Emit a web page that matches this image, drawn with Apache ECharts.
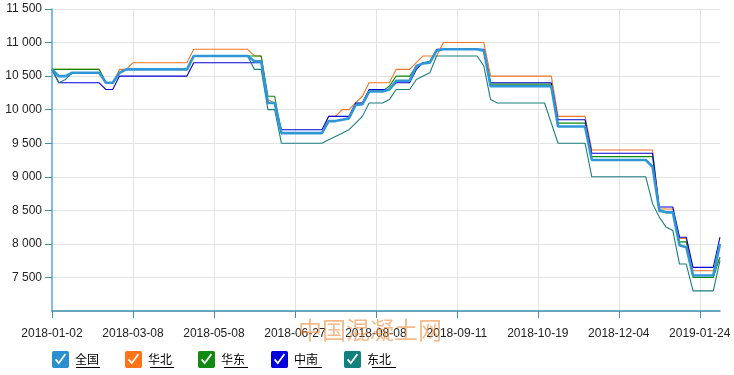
<!DOCTYPE html>
<html><head><meta charset="utf-8">
<script src="https://cdn.jsdelivr.net/npm/echarts@6/dist/echarts.min.js"></script>
<style>html,body{margin:0;padding:0;background:#fff}#c{width:734px;height:375px}</style>
</head><body><div id="c"></div>
<script>
const dates = [
'2018-01-02','2018-01-08','2018-01-12','2018-01-18','2018-01-24','2018-01-29','2018-02-02','2018-02-07','2018-02-12','2018-02-23','2018-02-28','2018-03-03','2018-03-08',
'2018-03-13','2018-03-17','2018-03-22','2018-03-27','2018-04-02','2018-04-08','2018-04-13','2018-04-18','2018-04-23','2018-04-27','2018-05-03','2018-05-08',
'2018-05-12','2018-05-16','2018-05-20','2018-05-24','2018-05-28','2018-06-01','2018-06-05','2018-06-09','2018-06-14','2018-06-19','2018-06-23','2018-06-27',
'2018-06-30','2018-07-04','2018-07-07','2018-07-11','2018-07-14','2018-07-18','2018-07-21','2018-07-25','2018-07-28','2018-08-01','2018-08-04','2018-08-08',
'2018-08-11','2018-08-14','2018-08-17','2018-08-20','2018-08-23','2018-08-26','2018-08-29','2018-09-01','2018-09-04','2018-09-06','2018-09-09','2018-09-11',
'2018-09-14','2018-09-17','2018-09-20','2018-09-23','2018-09-26','2018-09-29','2018-10-03','2018-10-06','2018-10-09','2018-10-12','2018-10-16','2018-10-19',
'2018-10-23','2018-10-27','2018-10-31','2018-11-04','2018-11-08','2018-11-12','2018-11-16','2018-11-19','2018-11-22','2018-11-25','2018-11-29','2018-12-04',
'2018-12-08','2018-12-12','2018-12-16','2018-12-20','2018-12-24','2018-12-28','2019-01-01','2019-01-05','2019-01-09','2019-01-13','2019-01-18','2019-01-24',
'2019-01-28','2019-02-01','2019-02-05'
];

const seriesNames = ['全国','华北','华东','中南','东北'];

const quanguo = [
10600,10500,10500,10550,10550,10550,10550,10550,10400,10400,10550,10600,
10600,10600,10600,10600,10600,10600,10600,10600,10600,
10800,10800,10800,10800,10800,10800,10800,10800,10800,
10720,10720,10100,10100,
9650,9650,9650,9650,9650,9650,9650,
9830,9830,9850,9870,10070,10080,10270,10270,10270,10300,10430,10430,10430,10650,10690,10700,10880,
10900,10900,10900,10900,10900,10900,
10880,10350,
10350,10350,10350,10350,10350,10350,10350,10350,10350,
9750,9750,9750,9750,9750,
9250,9250,9250,9250,9250,9250,9250,9250,9250,
9150,8500,8470,8470,7980,7950,7530,7530,7530,7530,8000
];

const huabei = [
10600,10600,10600,10600,10600,10600,10600,10600,10400,10400,10600,10600,
10700,10700,10700,10700,10700,10700,10700,10700,10700,
10900,10900,10900,10900,10900,10900,10900,10900,10900,
10800,10800,10150,10100,
9650,9650,9650,9650,9650,9650,9650,
9900,9900,10000,10000,10100,10200,10400,10400,10400,10400,10600,10600,10600,10700,10800,10800,10800,
11000,11000,11000,11000,11000,11000,
11000,10500,
10500,10500,10500,10500,10500,10500,10500,10500,10500,
9900,9900,9900,9900,9900,
9400,9400,9400,9400,9400,9400,9400,9400,9400,9400,
8520,8520,8520,8080,8080,7600,7600,7600,7600,7800
];

const huadong = [
10600,10600,10600,10600,10600,10600,10600,10600,10400,10400,10550,10600,
10600,10600,10600,10600,10600,10600,10600,10600,10600,
10800,10800,10800,10800,10800,10800,10800,10800,10800,10800,10800,
10200,10200,
9650,9650,9650,9650,9650,9650,9650,
9830,9830,9850,9880,10080,10100,10280,10280,10280,10350,10500,10500,10500,10650,10700,10720,10880,
10900,10900,10900,10900,10900,10900,
10880,10380,
10380,10380,10380,10380,10380,10380,10380,10380,10380,
9800,9800,9800,9800,9800,
9300,9300,9300,9300,9300,9300,9300,9300,9300,9300,
8480,8480,8480,8030,8030,7500,7500,7500,7500,7800
];

const zhongnan = [
10600,10400,10400,10400,10400,10400,10400,10400,10300,10300,10500,
10500,10500,10500,10500,10500,10500,10500,10500,10500,10500,
10700,10700,10700,10700,10700,10700,10700,10700,10700,10700,10700,
10100,10100,
9700,9700,9700,9700,9700,9700,9700,
9900,9900,9900,9900,10100,10100,10300,10300,10300,10300,10400,10400,10400,10600,10700,10700,10900,
10900,10900,10900,10900,10900,10900,
10900,10400,
10400,10400,10400,10400,10400,10400,10400,10400,10400,
9850,9850,9850,9850,9850,
9350,9350,9350,9350,9350,9350,9350,9350,9350,9350,
8550,8550,8550,8100,8100,7650,7650,7650,7650,8100
];

const dongbei = [
10600,10400,10450,10550,10550,10550,10550,10550,10400,10400,10550,
10600,10600,10600,10600,10600,10600,10600,10600,10600,10600,
10800,10800,10800,10800,10800,10800,10800,10800,10800,
10600,10600,10000,10000,
9500,9500,9500,9500,9500,9500,9500,
9550,9600,9650,9700,9800,9900,10100,10100,10100,10150,10300,10300,10300,10450,10500,10550,10800,
10800,10800,10800,10800,10800,10800,
10650,10150,
10100,10100,10100,10100,10100,10100,10100,10100,
9800,
9500,9500,9500,9500,9500,
9000,9000,9000,9000,9000,9000,9000,9000,9000,
8600,8400,8250,8200,7700,7700,7300,7300,7300,7300,7750
];

const colors = ['#2f97d8','#f07424','#0a8a0a','#0000d0','#1a7f7f'];
const legendColors = ['#2a8fd0','#ff7418','#118a11','#0000dd','#138080'];

const checkIcon = 'path://M2,0L18,0Q20,0 20,2L20,18Q20,20 18,20L2,20Q0,20 0,18L0,2Q0,0 2,0Z M3.5,10.5L8,16L16.5,4.5L15,3L8,12.5L5,9Z';

function fmt(v){
  if (v >= 1000) { const t = Math.floor(v/1000), r = v % 1000; return t + ' ' + String(r).padStart(3,'0'); }
  return String(v);
}

const values = [quanguo, huabei, huadong, zhongnan, dongbei];
const series = seriesNames.map((n, k) => ({
  name: n, type: 'line', data: values[k], symbol: 'none', showSymbol: false,
  z: k === 0 ? 3 : 2,
  itemStyle: { color: legendColors[k] },
  lineStyle: { color: colors[k], width: k === 0 ? 2.6 : 1.1 }
}));

const underlines = [];
for (let k = 0; k < 5; k++) {
  const x0 = 76 + k * 74;
  underlines.push({ type: 'line', shape: { x1: x0, y1: 367.5, x2: x0 + 24, y2: 367.5 }, style: { stroke: '#000', lineWidth: 1 }, silent: true });
}

const chart = echarts.init(document.getElementById('c'));
chart.setOption({
  animation: false,
  grid: { left: 52, right: 14, top: 9, bottom: 64 },
  legend: {
    left: 47, top: 346, itemWidth: 19, itemHeight: 17, itemGap: 26,
    icon: checkIcon, itemStyle: { borderWidth: 0 },
    textStyle: { fontSize: 12, color: '#000', fontFamily: '"Noto Sans CJK SC"' },
    data: seriesNames
  },
  xAxis: {
    type: 'category', data: dates, boundaryGap: false,
    axisLine: { show: true, onZero: false, lineStyle: { color: '#3f8fb3', width: 1.5 } },
    axisTick: { interval: 11, length: 7, lineStyle: { color: '#3f8fb3' } },
    axisLabel: { interval: 11, margin: 17, color: '#222', fontSize: 12, fontFamily: '"Liberation Sans", Arial' },
    splitLine: { show: true, interval: 11, lineStyle: { color: '#e3e3e3' } }
  },
  yAxis: {
    type: 'value', min: 7000, max: 11500, interval: 500,
    axisLine: { show: true, lineStyle: { color: '#62b0dc', width: 1.6 } },
    axisTick: { show: true, length: 7, lineStyle: { color: '#3d8fb5' } },
    axisLabel: { showMinLabel: false, margin: 10, color: '#222', fontSize: 12, fontFamily: '"Liberation Sans", Arial', formatter: fmt },
    splitLine: { lineStyle: { color: '#e3e3e3' } }
  },
  graphic: underlines.concat([{
    type: 'text', left: 298, top: 318, z: 100, silent: true,
    style: { text: '中国混凝土网', font: '24px "Noto Sans CJK SC"', fill: 'rgba(240,140,60,0.6)' }
  }]),
  series: series
});
</script>
</body></html>
